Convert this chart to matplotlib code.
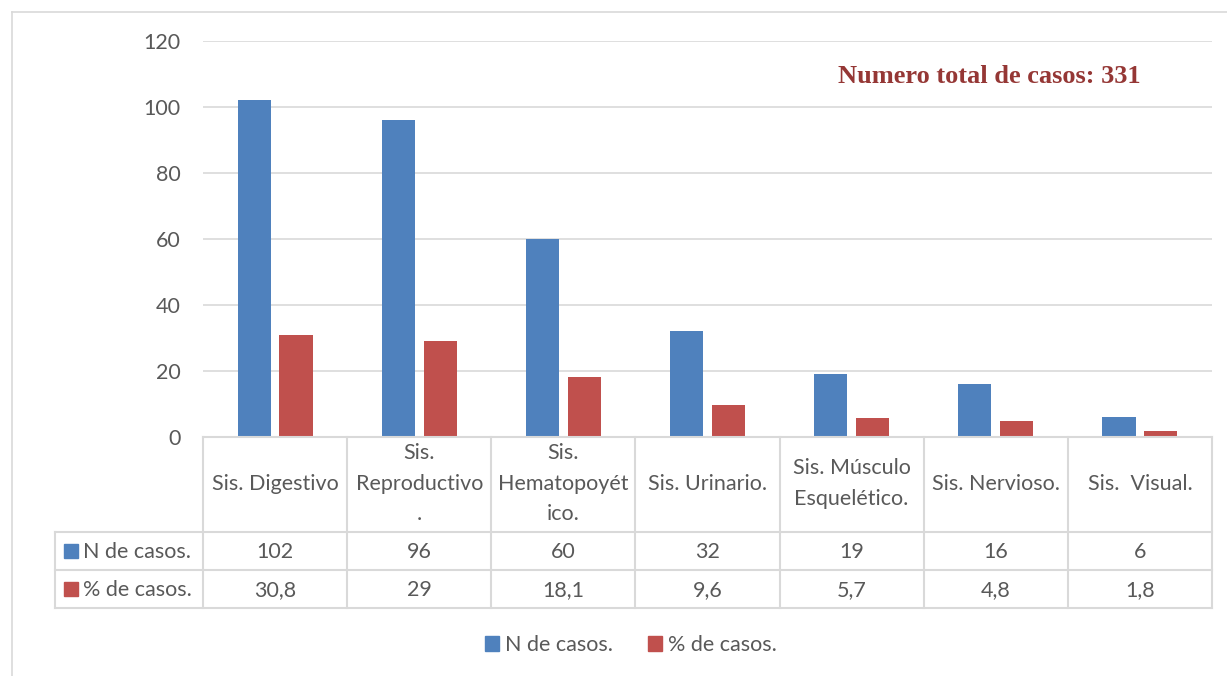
import matplotlib
matplotlib.use("Agg")
import matplotlib.pyplot as plt
import matplotlib.patches as mpatches
from matplotlib.lines import Line2D
import numpy as np

# data
categories = ["Sis. Digestivo", "Sis.\nReproductivo\n.", "Sis.\nHematopoyét\nico.",
              "Sis. Urinario.", "Sis. Músculo\nEsquelético.", "Sis. Nervioso.",
              "Sis.  Visual."]
n_casos = [102, 96, 60, 32, 19, 16, 6]
pct_casos = [30.8, 29, 18.1, 9.6, 5.7, 4.8, 1.8]
pct_labels = ["30,8", "29", "18,1", "9,6", "5,7", "4,8", "1,8"]
series_names = ["N de casos.", "% de casos."]
yticks = [0, 20, 40, 60, 80, 100, 120]

BLUE = "#4F81BD"
RED = "#C0504D"
GRID = "#D9D9D9"
TXT = "#595959"
FONT = "Lato"
FS = 15.5

W, H = 1227, 676
fig = plt.figure(figsize=(W / 100, H / 100), dpi=100)
fig.patch.set_facecolor("white")


def fx(px):
    return px / W


def fy(py):
    return 1 - py / H


# chart border (top and left)
fig.add_artist(Line2D([fx(12), 1], [fy(12), fy(12)], color=GRID, lw=1.2))
fig.add_artist(Line2D([fx(12), fx(12)], [fy(12), 0], color=GRID, lw=1.2))

# main bar axes
x0, x1, ytop, ybot = 203, 1212, 41, 437
ax = fig.add_axes([fx(x0), fy(ybot), fx(x1 - x0), fy(ytop) - fy(ybot)])
x = np.arange(len(categories))
bw = 0.23
off = 0.145
ax.bar(x - off, n_casos, bw, color=BLUE, zorder=3)
ax.bar(x + off, pct_casos, bw, color=RED, zorder=3)
ax.set_xlim(-0.5, len(categories) - 0.5)
ax.set_ylim(0, 120)
ax.set_yticks(yticks)
ax.set_yticklabels([str(v) for v in yticks], fontsize=FS, color=TXT, family=FONT)
ax.tick_params(axis="y", length=0, pad=16)
ax.set_xticks([])
for s in ax.spines.values():
    s.set_visible(False)
ax.grid(axis="y", color=GRID, lw=1.2, zorder=0)
ax.set_facecolor("none")

ax.text(0.779, 0.91, "Numero total de casos: 331", transform=ax.transAxes,
        ha="center", va="center", fontsize=19, fontweight="bold",
        color="#953735", family="Liberation Serif")

# data table below
tl, tr, tt, tb = 55, 1212, 437, 608
cw = (x1 - x0) / len(categories)
lab_w = (x0 - tl) / cw
tab = fig.add_axes([fx(tl), fy(tb), fx(tr - tl), fy(tt) - fy(tb)])
tab.set_xlim(-0.5 - lab_w, len(categories) - 0.5)
tab.set_ylim(0, tb - tt)
tab.axis("off")

r1, r2, r3 = 38, 76, tb - tt  # row boundaries from bottom (px)
lw = 1.5
# horizontal lines
tab.plot([-0.5 - lab_w, len(categories) - 0.5], [0, 0], color=GRID, lw=lw, clip_on=False)
tab.plot([-0.5 - lab_w, len(categories) - 0.5], [r1, r1], color=GRID, lw=lw, clip_on=False)
tab.plot([-0.5 - lab_w, len(categories) - 0.5], [r2, r2], color=GRID, lw=lw, clip_on=False)
tab.plot([-0.5, len(categories) - 0.5], [r3, r3], color=GRID, lw=lw, clip_on=False)
# vertical lines
tab.plot([-0.5 - lab_w] * 2, [0, r2], color=GRID, lw=lw, clip_on=False)
for i in range(len(categories) + 1):
    tab.plot([i - 0.5] * 2, [0, r3], color=GRID, lw=lw, clip_on=False)

for i, cat in enumerate(categories):
    tab.text(i, (r2 + r3) / 2 + 1, cat, ha="center", va="center", fontsize=FS,
             color=TXT, family=FONT, linespacing=1.65)
    tab.text(i, (r1 + r2) / 2 - 1, str(n_casos[i]), ha="center", va="center",
             fontsize=FS, color=TXT, family=FONT)
    tab.text(i, r1 / 2 - 1, pct_labels[i], ha="center", va="center",
             fontsize=FS, color=TXT, family=FONT)

# row labels with colour keys
for (yc, name, col) in [((r1 + r2) / 2, series_names[0], BLUE), (r1 / 2, series_names[1], RED)]:
    sq = 14 / cw
    tab.add_patch(mpatches.Rectangle((-0.5 - lab_w + 9 / cw, yc - 7), sq, 14,
                                     color=col, clip_on=False))
    tab.text(-0.5 - lab_w + 28 / cw, yc - 1, name, ha="left", va="center",
             fontsize=FS, color=TXT, family=FONT)

# legend
handles = [mpatches.Patch(color=BLUE, label=series_names[0]),
           mpatches.Patch(color=RED, label=series_names[1])]
fig.legend(handles=handles, loc="center", bbox_to_anchor=(fx(631), fy(645)),
           ncol=2, frameon=False, handlelength=0.65, handleheight=0.65,
           handletextpad=0.3, columnspacing=1.6,
           prop={"family": FONT, "size": FS}, labelcolor=TXT)

fig.savefig("out.png", dpi=100, facecolor="white")
